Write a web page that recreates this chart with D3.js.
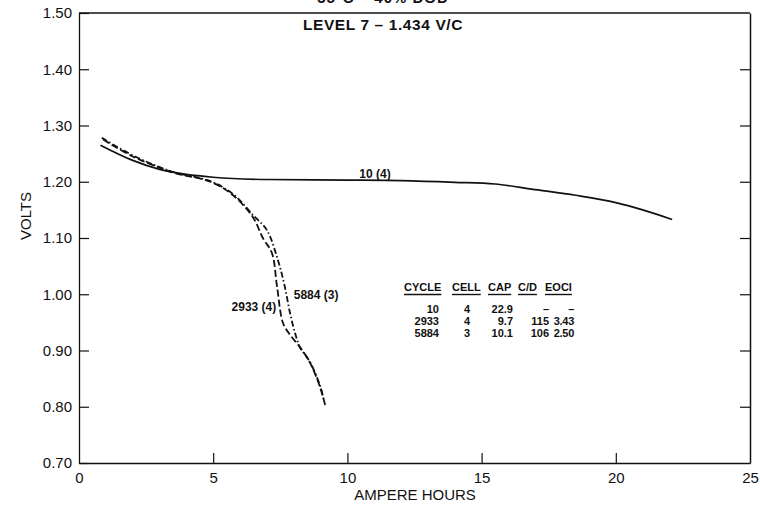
<!DOCTYPE html>
<html>
<head>
<meta charset="utf-8">
<script src="https://cdn.jsdelivr.net/npm/d3@7"></script>
<style>
  html, body { margin: 0; padding: 0; background: #fff; overflow: hidden; }
  svg { display: block; font-family: "Liberation Sans", Arial, sans-serif; }
  .tick text { font-size: 15px; fill: #111; }
</style>
</head>
<body>
<div id="chart"></div>
<script>
// chart size
const width = 760, height = 508;
const margin = { top: 13, right: 10, bottom: 45, left: 79 };
const innerWidth = width - margin.left - margin.right;
const innerHeight = height - margin.top - margin.bottom;

// ---- data ----
// cycle 10, cell 4 (solid)
const cycle10Amp   = [0.8, 2, 3, 4, 5, 7, 10, 12, 14, 15.5, 17, 18.5, 20, 21, 22.1];
const cycle10Volts = [1.265, 1.238, 1.222, 1.213, 1.208, 1.204, 1.203, 1.202, 1.199, 1.196, 1.186, 1.176, 1.163, 1.150, 1.133];

// cycle 2933, cell 4 (dashed)
const cycle2933Amp   = [0.9, 2, 3, 3.6, 4.9, 5.74, 6.48, 6.85, 7.19, 7.38, 7.6, 7.86, 8.23, 8.61, 8.98, 9.17];
const cycle2933Volts = [1.275, 1.245, 1.225, 1.215, 1.200, 1.176, 1.137, 1.100, 1.073, 1.013, 0.949, 0.928, 0.906, 0.878, 0.835, 0.803];

// cycle 5884, cell 3 (dash-dot)
const cycle5884Amp   = [0.85, 2, 3, 3.6, 4.9, 5.74, 6.5, 7.0, 7.41, 7.67, 7.86, 8.05, 8.23, 8.6, 9.0, 9.12];
const cycle5884Volts = [1.278, 1.247, 1.226, 1.216, 1.201, 1.178, 1.140, 1.114, 1.061, 1.013, 0.967, 0.931, 0.906, 0.880, 0.835, 0.812];

// axis ticks
const xTicks = [0, 5, 10, 15, 20, 25];
const yTicks = [0.70, 0.80, 0.90, 1.00, 1.10, 1.20, 1.30, 1.40, 1.50];

// summary table
const tableHeads = ["CYCLE", "CELL", "CAP", "C/D", "EOCI"];
const tableCycle = ["10", "2933", "5884"];
const tableCell  = ["4", "4", "3"];
const tableCap   = ["22.9", "9.7", "10.1"];
const tableCD    = ["\u2013", "115", "106"];
const tableEOCI  = ["\u2013", "3.43", "2.50"];

const ink = "#111";

const svg = d3.select("#chart")
  .append("svg")
    .attr("width", width)
    .attr("height", height);

const innerChart = svg
  .append("g")
    .attr("transform", `translate(${margin.left}, ${margin.top})`);

/*    scales    */
const xScale = d3.scaleLinear().domain([0, 25]).range([0, innerWidth]);
const yScale = d3.scaleLinear().domain([0.70, 1.50]).range([innerHeight, 0]);

/*    frame + axes    */
// left axis, ticks pointing inward
const leftAxis = d3.axisLeft(yScale)
  .tickValues(yTicks)
  .tickFormat(d3.format(".2f"))
  .tickSizeInner(-10)
  .tickSizeOuter(0)
  .tickPadding(7);
const gLeft = innerChart.append("g").call(leftAxis);
gLeft.selectAll(".tick line").attr("stroke", ink).attr("stroke-width", 1.2);
gLeft.select(".domain").attr("stroke", ink).attr("stroke-width", 1.3);

// right axis, ticks only, pointing inward
const rightAxis = d3.axisRight(yScale)
  .tickValues(yTicks.filter(d => d > 0.7 && d < 1.5))
  .tickSizeInner(-10)
  .tickSizeOuter(0)
  .tickFormat("");
const gRight = innerChart.append("g")
  .attr("transform", `translate(${innerWidth}, 0)`)
  .call(rightAxis);
gRight.selectAll(".tick line").attr("stroke", ink).attr("stroke-width", 1.2);
gRight.select(".domain").attr("stroke", ink).attr("stroke-width", 1.5);

// bottom axis
const bottomAxis = d3.axisBottom(xScale)
  .tickValues(xTicks)
  .tickSizeInner(-10)
  .tickSizeOuter(0)
  .tickPadding(9);
const gBottom = innerChart.append("g")
  .attr("transform", `translate(0, ${innerHeight})`)
  .call(bottomAxis);
gBottom.selectAll(".tick line")
  .attr("stroke", ink).attr("stroke-width", 1.2)
  .attr("display", d => (d === 0 || d === 25) ? "none" : null);
gBottom.select(".domain").attr("stroke", ink).attr("stroke-width", 1.6);

// top border
innerChart.append("line")
  .attr("x1", 0).attr("x2", innerWidth)
  .attr("y1", 0).attr("y2", 0)
  .attr("stroke", ink).attr("stroke-width", 1.5);

/*    curves    */
const line = d3.line()
  .x(d => xScale(d[0]))
  .y(d => yScale(d[1]))
  .curve(d3.curveMonotoneX);
const lineY = d3.line()
  .x(d => xScale(d[0]))
  .y(d => yScale(d[1]))
  .curve(d3.curveCatmullRom.alpha(0.5));

const series = [
  { amp: cycle10Amp,   volts: cycle10Volts,   dash: null,              gen: line },
  { amp: cycle2933Amp, volts: cycle2933Volts, dash: "7,3",             gen: lineY },
  { amp: cycle5884Amp, volts: cycle5884Volts, dash: "6,2.5,1.5,2.5",   gen: lineY }
];

innerChart.selectAll(".curve")
  .data(series)
  .join("path")
    .attr("class", "curve")
    .attr("d", s => s.gen(s.amp.map((a, i) => [a, s.volts[i]])))
    .attr("fill", "none")
    .attr("stroke", ink)
    .attr("stroke-width", (s, i) => i === 0 ? 1.7 : 1.8)
    .attr("stroke-dasharray", s => s.dash);

/*    curve labels    */
const curveLabels = [
  { text: "10 (4)",   x: 11.03, y: 1.213, anchor: "middle" },
  { text: "2933 (4)", x: 7.35,  y: 0.975, anchor: "end" },
  { text: "5884 (3)", x: 8.0,   y: 0.998, anchor: "start" }
];
innerChart.selectAll(".curve-label")
  .data(curveLabels)
  .join("text")
    .attr("class", "curve-label")
    .attr("x", d => xScale(d.x))
    .attr("y", d => yScale(d.y))
    .attr("text-anchor", d => d.anchor)
    .attr("dominant-baseline", "middle")
    .attr("font-size", 12)
    .attr("font-weight", "bold")
    .attr("fill", ink)
    .text(d => d.text);

/*    table    */
const colRight = [439, 472, 513, 549, 574];   // right edge of each column
const colLeft  = [404, 452, 488, 518, 545];
const table = svg.append("g").attr("font-size", 11).attr("font-weight", "bold").attr("fill", ink);

tableHeads.forEach((h, i) => {
  const t = table.append("text")
    .attr("x", colLeft[i])
    .attr("y", 291)
    .text(h);
  const w = t.node().getComputedTextLength();
  table.append("line")
    .attr("x1", colLeft[i]).attr("x2", colLeft[i] + w)
    .attr("y1", 294.5).attr("y2", 294.5)
    .attr("stroke", ink).attr("stroke-width", 1.4);
});

const tableRows = tableCycle.map((c, i) => [c, tableCell[i], tableCap[i], tableCD[i], tableEOCI[i]]);
const rowY = [313, 325, 337];
tableRows.forEach((row, r) => {
  row.forEach((v, i) => {
    table.append("text")
      .attr("x", i === 1 ? colLeft[1] + 15 : colRight[i])
      .attr("y", rowY[r])
      .attr("text-anchor", i === 1 ? "middle" : "end")
      .attr("letter-spacing", i === 4 ? -0.3 : null)
      .text(v);
  });
});

/*    titles    */
svg.append("text")
  .attr("x", 383).attr("y", 3)
  .attr("text-anchor", "middle")
  .attr("font-size", 15).attr("font-weight", "bold").attr("fill", ink)
  .attr("letter-spacing", 1)
  .text("35\u00B0C \u2013 40% DOD");

svg.append("text")
  .attr("x", 383).attr("y", 30)
  .attr("text-anchor", "middle")
  .attr("font-size", 15.5).attr("font-weight", "bold").attr("fill", ink)
  .attr("letter-spacing", 0.6)
  .text("LEVEL 7 \u2013 1.434 V/C");

// axis labels
svg.append("text")
  .attr("transform", `translate(27, 216) rotate(-90)`)
  .attr("text-anchor", "middle")
  .attr("dominant-baseline", "middle")
  .attr("font-size", 15).attr("fill", ink)
  .text("VOLTS");

svg.append("text")
  .attr("x", 415).attr("y", 500)
  .attr("text-anchor", "middle")
  .attr("font-size", 15).attr("fill", ink)
  .text("AMPERE HOURS");
</script>
</body>
</html>
